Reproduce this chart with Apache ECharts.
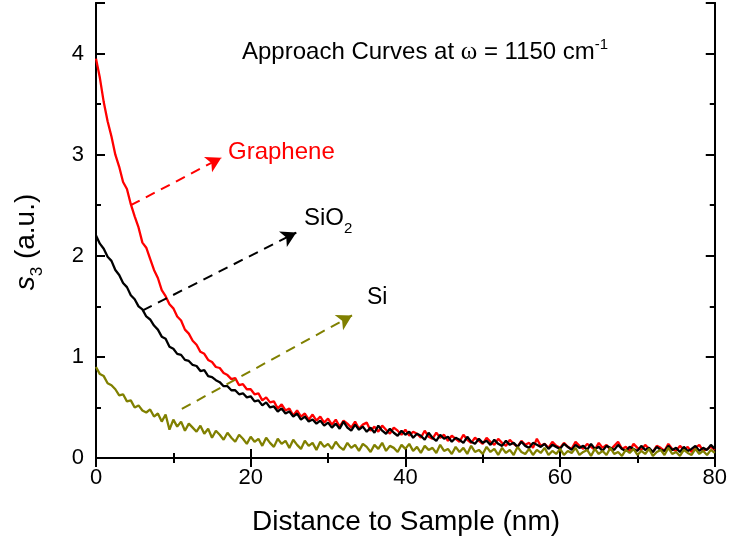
<!DOCTYPE html>
<html><head><meta charset="utf-8">
<script src="https://cdn.jsdelivr.net/npm/echarts@6/dist/echarts.min.js"></script>
<style>html,body{margin:0;padding:0;background:#fff}#c{width:730px;height:544px}</style>
</head><body><div id="c"></div>
<script>
const distance = [
0,0.5,1,1.5,2,2.5,3,3.5,4,4.5,5,5.5,6,6.5,7,7.5,8,8.5,9,9.5,
10,10.5,11,11.5,12,12.5,13,13.5,14,14.5,15,15.5,16,16.5,17,17.5,18,18.5,19,19.5,
20,20.5,21,21.5,22,22.5,23,23.5,24,24.5,25,25.5,26,26.5,27,27.5,28,28.5,29,29.5,
30,30.5,31,31.5,32,32.5,33,33.5,34,34.5,35,35.5,36,36.5,37,37.5,38,38.5,39,39.5,
40,40.5,41,41.5,42,42.5,43,43.5,44,44.5,45,45.5,46,46.5,47,47.5,48,48.5,49,49.5,
50,50.5,51,51.5,52,52.5,53,53.5,54,54.5,55,55.5,56,56.5,57,57.5,58,58.5,59,59.5,
60,60.5,61,61.5,62,62.5,63,63.5,64,64.5,65,65.5,66,66.5,67,67.5,68,68.5,69,69.5,
70,70.5,71,71.5,72,72.5,73,73.5,74,74.5,75,75.5,76,76.5,77,77.5,78,78.5,79,79.5,
80];
const graphene = [
3.95,3.76,3.52,3.33,3.18,3.00,2.88,2.73,2.66,2.51,2.39,2.28,2.13,2.08,1.97,1.86,1.78,1.66,1.60,1.52,
1.48,1.40,1.36,1.27,1.23,1.16,1.12,1.05,1.03,0.97,0.95,0.90,0.89,0.84,0.82,0.78,0.79,0.72,0.73,0.68,
0.68,0.63,0.64,0.57,0.60,0.55,0.56,0.49,0.53,0.47,0.49,0.42,0.47,0.41,0.44,0.38,0.43,0.37,0.41,0.35,
0.39,0.33,0.38,0.31,0.37,0.34,0.30,0.36,0.29,0.33,0.35,0.27,0.31,0.26,0.32,0.28,0.24,0.30,0.27,0.23,
0.28,0.22,0.26,0.24,0.20,0.27,0.21,0.19,0.25,0.20,0.23,0.17,0.22,0.19,0.16,0.23,0.18,0.15,0.20,0.17,
0.14,0.20,0.16,0.13,0.19,0.15,0.12,0.18,0.14,0.11,0.17,0.13,0.15,0.10,0.19,0.12,0.14,0.10,0.16,0.12,
0.10,0.15,0.11,0.09,0.16,0.12,0.09,0.14,0.11,0.08,0.15,0.10,0.13,0.08,0.12,0.16,0.09,0.11,0.07,0.14,
0.10,0.08,0.13,0.09,0.06,0.12,0.10,0.07,0.14,0.09,0.07,0.12,0.08,0.11,0.06,0.10,0.13,0.07,0.09,0.11,
0.08];
const sio2 = [
2.20,2.12,2.07,1.99,1.95,1.86,1.81,1.73,1.69,1.61,1.57,1.50,1.47,1.40,1.37,1.31,1.27,1.20,1.18,1.10,
1.08,1.03,1.02,0.97,0.96,0.92,0.91,0.86,0.87,0.81,0.80,0.77,0.75,0.71,0.71,0.67,0.67,0.63,0.64,0.60,
0.61,0.56,0.57,0.52,0.55,0.50,0.51,0.46,0.49,0.44,0.46,0.41,0.44,0.38,0.41,0.36,0.38,0.34,0.37,0.32,
0.35,0.30,0.34,0.29,0.36,0.30,0.27,0.33,0.28,0.31,0.26,0.30,0.25,0.32,0.27,0.24,0.29,0.25,0.22,0.27,
0.23,0.26,0.20,0.24,0.22,0.18,0.25,0.20,0.17,0.23,0.19,0.21,0.16,0.20,0.18,0.15,0.21,0.16,0.14,0.19,
0.15,0.17,0.13,0.18,0.14,0.12,0.17,0.13,0.15,0.11,0.16,0.12,0.10,0.15,0.13,0.11,0.14,0.09,0.13,0.11,
0.09,0.14,0.11,0.08,0.13,0.10,0.12,0.08,0.14,0.09,0.11,0.07,0.12,0.10,0.08,0.13,0.09,0.07,0.11,0.09,
0.07,0.12,0.08,0.10,0.06,0.11,0.08,0.07,0.12,0.08,0.10,0.06,0.11,0.07,0.09,0.12,0.07,0.10,0.08,0.13,
0.09];
const si = [
0.90,0.83,0.81,0.74,0.72,0.68,0.62,0.63,0.56,0.57,0.50,0.52,0.47,0.45,0.48,0.41,0.44,0.36,0.43,0.28,
0.38,0.31,0.36,0.27,0.34,0.30,0.26,0.32,0.24,0.29,0.20,0.27,0.23,0.18,0.25,0.20,0.16,0.23,0.19,0.14,
0.21,0.16,0.19,0.12,0.20,0.15,0.11,0.19,0.14,0.17,0.10,0.18,0.13,0.09,0.17,0.12,0.15,0.08,0.16,0.11,
0.14,0.09,0.16,0.11,0.08,0.15,0.10,0.13,0.07,0.14,0.11,0.06,0.13,0.09,0.15,0.07,0.12,0.10,0.06,0.13,
0.09,0.14,0.07,0.11,0.05,0.12,0.08,0.10,0.05,0.13,0.07,0.09,0.04,0.11,0.06,0.10,0.04,0.12,0.06,0.08,
0.04,0.11,0.06,0.09,0.03,0.10,0.05,0.08,0.03,0.11,0.06,0.04,0.09,0.03,0.08,0.05,0.10,0.03,0.07,0.04,
0.09,0.03,0.07,0.05,0.10,0.03,0.06,0.08,0.02,0.09,0.04,0.07,0.03,0.10,0.04,0.06,0.02,0.08,0.05,0.09,
0.03,0.07,0.04,0.09,0.02,0.06,0.08,0.03,0.10,0.04,0.06,0.02,0.08,0.05,0.03,0.09,0.04,0.07,0.03,0.08,
0.05];
// annotation arrows (data coordinates: start, end)
const grapheneArrow = [[4.5, 2.50], [16.2, 2.97]];
const sio2Arrow = [[6.05, 1.46], [25.9, 2.23]];
const siArrow = [[11.1, 0.485], [33.1, 1.41]];

const FONT = '"Liberation Sans", Arial, sans-serif';
const zip = (xs, ys) => xs.map((x, i) => [x, ys[i]]);

const chart = echarts.init(document.getElementById('c'), null, {renderer: 'canvas'});

const tickStyle = {color: '#000', width: 2};
function xAx(pos, showLabel) {
  return {
    type: 'value', min: 0, max: 80, interval: 20, position: pos,
    axisLine: {show: true, lineStyle: {color: '#000', width: 2}},
    axisTick: {show: true, inside: true, length: 9, lineStyle: tickStyle},
    minorTick: {show: true, splitNumber: 2, length: 5, lineStyle: tickStyle},
    splitLine: {show: false}, minorSplitLine: {show: false},
    axisLabel: {show: showLabel, fontSize: 22, color: '#000', fontFamily: FONT, margin: 9}
  };
}
function yAx(pos, interval, len, showLabel) {
  return {
    type: 'value', min: 0, max: 4.5, interval: interval, position: pos,
    axisLine: {show: true, lineStyle: {color: '#000', width: 2}},
    axisTick: {show: true, inside: true, length: len, lineStyle: tickStyle},
    splitLine: {show: false},
    axisLabel: {show: showLabel, fontSize: 22, color: '#000', fontFamily: FONT, margin: 12,
      formatter: v => (Number.isInteger(v) ? String(v) : '')}
  };
}
function arrowLine(pts, color) {
  return {
    silent: true, symbol: ['none', 'arrow'], symbolSize: [13, 15],
    label: {show: false}, emphasis: {disabled: true},
    lineStyle: {color: color, type: [10, 7], width: 2},
    data: [[{coord: pts[0]}, {coord: pts[1]}]]
  };
}

chart.setOption({
  animation: false,
  backgroundColor: '#fff',
  grid: {left: 96, right: 13, top: 3, bottom: 86, containLabel: false},
  xAxis: [xAx('bottom', true), xAx('top', false)],
  yAxis: [yAx('left', 1, 9, true), yAx('left', 0.5, 5, false), yAx('right', 1, 9, false), yAx('right', 0.5, 5, false)],
  series: [
    {type: 'line', name: 'Graphene', data: zip(distance, graphene), showSymbol: false, symbol: 'none',
     lineStyle: {color: '#ff0000', width: 2.3}, emphasis: {disabled: true}, xAxisIndex: 0, yAxisIndex: 0,
     markLine: arrowLine(grapheneArrow, '#ff0000')},
    {type: 'line', name: 'SiO2', data: zip(distance, sio2), showSymbol: false, symbol: 'none',
     lineStyle: {color: '#000000', width: 2.3}, emphasis: {disabled: true}, xAxisIndex: 0, yAxisIndex: 0,
     markLine: arrowLine(sio2Arrow, '#000000')},
    {type: 'line', name: 'Si', data: zip(distance, si), showSymbol: false, symbol: 'none',
     lineStyle: {color: '#808000', width: 2.3}, emphasis: {disabled: true}, xAxisIndex: 0, yAxisIndex: 0,
     markLine: arrowLine(siArrow, '#808000')}
  ],
  graphic: [
    {type: 'text', x: 242, y: 52, silent: true,
     style: {text: '{a|Approach Curves at }{w|ω}{a| = 1150 cm}{s|-1}', fill: '#000', align: 'left', verticalAlign: 'middle',
       rich: {a: {fontSize: 24, fontFamily: FONT, lineHeight: 30},
              w: {fontSize: 25, fontFamily: '"Liberation Serif", serif', lineHeight: 30},
              s: {fontSize: 15, fontFamily: FONT, verticalAlign: 'top', lineHeight: 15}}}},
    {type: 'text', x: 228, y: 152, silent: true,
     style: {text: 'Graphene', fill: '#ff0000', font: '24px ' + FONT, align: 'left', verticalAlign: 'middle'}},
    {type: 'text', x: 304, y: 218, silent: true,
     style: {text: '{a|SiO}{b|2}', fill: '#000', align: 'left', verticalAlign: 'middle',
       rich: {a: {fontSize: 24, fontFamily: FONT, lineHeight: 36}, b: {fontSize: 15, fontFamily: FONT, verticalAlign: 'bottom', lineHeight: 15}}}},
    {type: 'text', x: 367, y: 298, silent: true,
     style: {text: 'Si', fill: '#000', font: '23px ' + FONT, align: 'left', verticalAlign: 'middle'}},
    {type: 'text', x: 406, y: 522, silent: true,
     style: {text: 'Distance to Sample (nm)', fill: '#000', font: '28px ' + FONT, align: 'center', verticalAlign: 'middle'}},
    {type: 'text', x: 26, y: 242, rotation: Math.PI / 2, silent: true,
     style: {text: '{i|s}{b|3}{a| (a.u.)}', fill: '#000', align: 'center', verticalAlign: 'middle',
       rich: {i: {fontSize: 28, fontFamily: FONT, fontStyle: 'italic', lineHeight: 40},
              a: {fontSize: 28, fontFamily: FONT, lineHeight: 40},
              b: {fontSize: 17, fontFamily: FONT, verticalAlign: 'bottom', lineHeight: 17}}}}
  ]
});
</script>
</body></html>
